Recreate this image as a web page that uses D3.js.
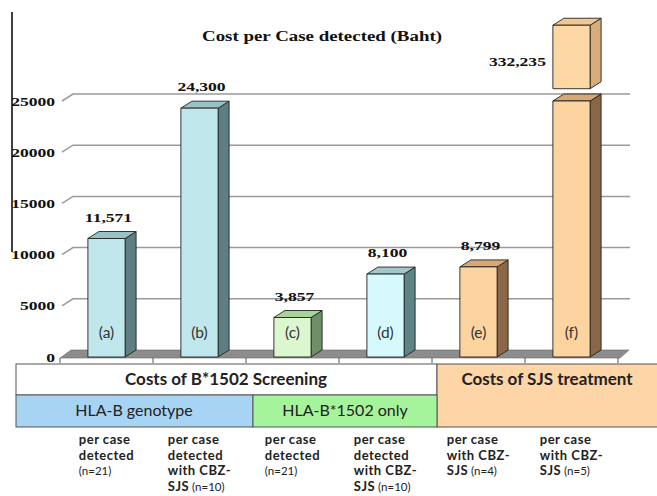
<!DOCTYPE html>
<html>
<head>
<meta charset="utf-8">
<script src="https://cdn.jsdelivr.net/npm/d3@7"></script>
<style>
  body { margin: 0; background: #fff; }
  svg { display: block; }
</style>
</head>
<body>
<svg id="chart"></svg>
<script>
// data
const categories = ["a", "b", "c", "d", "e", "f"];
const values = [11571, 24300, 3857, 8100, 8799, 332235];
const yTicks = [0, 5000, 10000, 15000, 20000, 25000];
const frontColors = ["#c0e7eb", "#c0e7eb", "#dcf7d0", "#d5f9fd", "#fdd4a0", "#fdd4a0"];
const topColors = ["#97c3c7", "#97c3c7", "#a8d39a", "#a1c8cb", "#d6a877", "#d6a877"];
const sideColors = ["#5e7e81", "#5e7e81", "#6e8f67", "#5e8487", "#8a6746", "#8a6746"];
const groupHeaders = ["Costs of B*1502 Screening", "Costs of SJS treatment"];
const subHeaders = ["HLA-B genotype", "HLA-B*1502 only"];
// each line: [bold part, small regular part]
const captions = [
  [["per case", ""], ["detected", ""], ["", "(n=21)"]],
  [["per case", ""], ["detected", ""], ["with CBZ-", ""], ["SJS", " (n=10)"]],
  [["per case", ""], ["detected", ""], ["", "(n=21)"]],
  [["per case", ""], ["detected", ""], ["with CBZ-", ""], ["SJS", " (n=10)"]],
  [["per case", ""], ["with CBZ-", ""], ["SJS", " (n=4)"]],
  [["per case", ""], ["with CBZ-", ""], ["SJS", " (n=5)"]]
];
const axisMax = 25000;       // bar (f) is cut at the top of the axis
const breakPiece = [26200, 32400]; // drawn extent of the detached top of bar (f)

const width = 657, height = 496;
const svg = d3.select("#chart").attr("width", width).attr("height", height);

const x = d3.scaleBand().domain(categories).range([60, 618]);
const y = d3.scaleLinear().domain([0, axisMax]).range([357, 101]);
const dx = 11, dy = -7;
const barW = x.bandwidth() * 0.4;
const fmt = d3.format(",");

const serif = "'Liberation Serif', 'Times New Roman', serif";
const sans = "Lato, 'Open Sans', sans-serif";
const stretch = 1.35;

function wideText(px, py, str, size, anchor) {
  return svg.append("g")
      .attr("transform", `translate(${px},${py}) scale(${stretch},1)`)
    .append("text")
      .attr("text-anchor", anchor)
      .attr("font-family", serif)
      .attr("font-weight", "bold")
      .attr("font-size", size)
      .attr("fill", "#111")
      .text(str);
}

// left black line
svg.append("line")
    .attr("x1", 12).attr("x2", 12).attr("y1", 12).attr("y2", 252)
    .attr("stroke", "#000").attr("stroke-width", 1.5);

// title
wideText(322, 41, "Cost per Case detected (Baht)", 14, "middle");

// gridlines on the back wall
const x0 = x.range()[0], x1 = x.range()[1];
yTicks.filter(t => t > 0).forEach(t => {
  svg.append("path")
      .attr("d", `M${x0 + 2},${y(t)} L${x0 + 2 + dx},${y(t) + dy} L${x1 + dx + 1},${y(t) + dy}`)
      .attr("fill", "none")
      .attr("stroke", "#9a9a9a")
      .attr("stroke-width", 1.5);
});

// tick labels
yTicks.forEach(t => {
  wideText(55, y(t) + 4.5, String(t), 13, "end");
});

// floor
svg.append("path")
    .attr("d", `M${x0},${y(0) + 1} L${x0 + dx},${y(0) + dy} L${x1 + dx},${y(0) + dy} L${x1 + 2},${y(0) + 1} Z`)
    .attr("fill", "#8c8c8c")
    .attr("stroke", "#6a6a6a")
    .attr("stroke-width", 0.6);

// ticks under the floor
const bounds = categories.map(c => x(c)).concat([x1]);
svg.selectAll(".tk").data(bounds).enter().append("line")
    .attr("x1", d => d).attr("x2", d => d)
    .attr("y1", y(0) + 1).attr("y2", y(0) + 6)
    .attr("stroke", "#555").attr("stroke-width", 1);

function box3d(g, left, top, bottom, front, topC, side) {
  const right = left + barW;
  g.append("path")
      .attr("d", `M${right},${top} L${right + dx},${top + dy} L${right + dx},${bottom + dy} L${right},${bottom} Z`)
      .attr("fill", side);
  g.append("path")
      .attr("d", `M${left},${top} L${left + dx},${top + dy} L${right + dx},${top + dy} L${right},${top} Z`)
      .attr("fill", topC);
  g.append("rect")
      .attr("x", left).attr("y", top)
      .attr("width", barW).attr("height", bottom - top)
      .attr("fill", front);
  g.selectAll("path, rect")
      .attr("stroke", "#222")
      .attr("stroke-width", 0.9)
      .attr("stroke-linejoin", "round");
}

const bars = categories.map((c, i) => ({ c, v: values[i], i }));
bars.forEach(d => {
  const g = svg.append("g");
  const cx = x(d.c) + x.bandwidth() / 2;
  const left = cx - barW / 2;
  const v = Math.min(d.v, axisMax);
  box3d(g, left, y(v), y(0), frontColors[d.i], topColors[d.i], sideColors[d.i]);

  g.append("text")
      .attr("x", cx).attr("y", y(0) - 19)
      .attr("text-anchor", "middle")
      .attr("font-family", sans)
      .attr("font-size", 15.5)
      .attr("fill", "#333")
      .text(`(${d.c})`);

  if (d.v > axisMax) {
    // detached top piece of the broken bar
    const pg = svg.append("g");
    box3d(pg, left, y(breakPiece[1]), y(breakPiece[0]), "#fdd7a4", "#f2c892", "#d8ad7e");
    wideText(left - 7, (y(breakPiece[0]) + y(breakPiece[1])) / 2 + 9, fmt(d.v), 13, "end");
  } else {
    wideText(cx + 2, y(v) - 17, fmt(d.v), 13, "middle");
  }
});

// table underneath
const table = svg.append("g").attr("stroke", "#555").attr("stroke-width", 1);
table.append("rect").attr("x", 16).attr("y", 364).attr("width", 421).attr("height", 31).attr("fill", "#fff");
table.append("rect").attr("x", 437).attr("y", 364).attr("width", 222).attr("height", 63).attr("fill", "#fdd5a6");
table.append("rect").attr("x", 16).attr("y", 395).attr("width", 237).attr("height", 32).attr("fill", "#a8d4f4");
table.append("rect").attr("x", 253).attr("y", 395).attr("width", 184).attr("height", 32).attr("fill", "#a5f49b");

const headerPos = [[226, 385], [547, 385]];
groupHeaders.forEach((t, i) => {
  svg.append("text")
      .attr("x", headerPos[i][0]).attr("y", headerPos[i][1])
      .attr("text-anchor", "middle")
      .attr("font-family", sans)
      .attr("font-weight", "bold")
      .attr("font-size", 17)
      .attr("fill", "#222")
      .text(t);
});
const subPos = [[134, 416], [345, 416]];
subHeaders.forEach((t, i) => {
  svg.append("text")
      .attr("x", subPos[i][0]).attr("y", subPos[i][1])
      .attr("text-anchor", "middle")
      .attr("font-family", sans)
      .attr("font-size", 16)
      .attr("fill", "#222")
      .text(t);
});

// captions below, one text block per bar, centred under it
const lineH = 15.5;
captions.forEach((lines, i) => {
  const cx = x(categories[i]) + x.bandwidth() / 2;
  const t = svg.append("text")
      .attr("y", 444)
      .attr("font-family", sans)
      .attr("fill", "#222");
  const rows = lines.map((ln, k) => {
    const parts = [];
    if (ln[0]) {
      parts.push(t.append("tspan")
          .attr("font-weight", "bold")
          .attr("font-size", 13)
          .attr("letter-spacing", 0.5)
          .text(ln[0]));
    }
    if (ln[1]) {
      parts.push(t.append("tspan").attr("font-size", 11.5).text(ln[1]));
    }
    parts[0].attr("dy", k === 0 ? 0 : lineH);
    return parts;
  });
  const w = d3.max(rows, r => d3.sum(r, p => p.node().getComputedTextLength()));
  rows.forEach(r => r[0].attr("x", cx - w / 2));
});
</script>
</body>
</html>
